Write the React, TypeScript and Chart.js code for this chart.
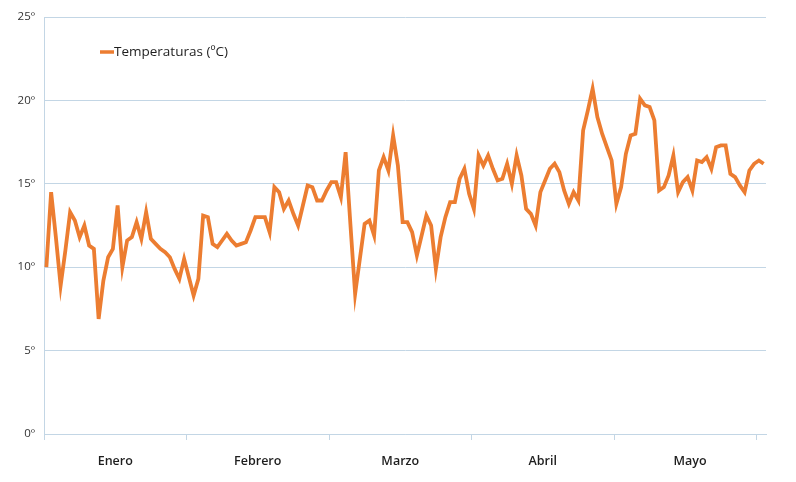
import { useEffect, useRef } from 'react';
import { Chart, registerables } from 'chart.js';

Chart.register(...registerables);

const SERIES_LABEL = 'Temperaturas (ºC)';
const MONTHS = ['Enero', 'Febrero', 'Marzo', 'Abril', 'Mayo'];
const DAYS_PER_TICK = 30;
const Y_MIN = 0;
const Y_MAX = 25;
const Y_STEP = 5;

const TEMPERATURES = [
  10.0, 14.5, 11.8, 8.9, 11.0, 13.3, 12.8, 11.8, 12.5, 11.3,
  11.1, 6.9, 9.2, 10.6, 11.1, 13.7, 10.0, 11.6, 11.8, 12.7,
  11.7, 13.3, 11.7, 11.4, 11.1, 10.9, 10.6, 9.9, 9.3, 10.5,
  9.4, 8.3, 9.3, 13.1, 13.0, 11.4, 11.2, 11.6, 12.0, 11.6,
  11.3, 11.4, 11.5, 12.2, 13.0, 13.0, 13.0, 12.1, 14.8, 14.5,
  13.5, 14.0, 13.2, 12.5, 13.7, 14.9, 14.8, 14.0, 14.0, 14.6,
  15.1, 15.1, 14.2, 16.9, 12.6, 8.4, 10.5, 12.6, 12.8, 11.9,
  15.8, 16.6, 15.8, 17.9, 16.1, 12.7, 12.7, 12.1, 10.7, 11.9,
  13.1, 12.5, 9.9, 11.8, 13.0, 13.9, 13.9, 15.3, 15.9, 14.4,
  13.5, 16.7, 16.1, 16.7, 15.9, 15.2, 15.3, 16.2, 15.0, 16.7,
  15.5, 13.5, 13.2, 12.5, 14.5, 15.2, 15.9, 16.2, 15.7, 14.6,
  13.8, 14.5, 14.0, 18.2, 19.4, 20.7, 19.0, 18.0, 17.2, 16.4,
  13.8, 14.8, 16.8, 17.9, 18.0, 20.1, 19.7, 19.6, 18.8, 14.6,
  14.8, 15.5, 16.7, 14.5, 15.1, 15.4, 14.6, 16.4, 16.3, 16.6,
  15.9, 17.2, 17.3, 17.3, 15.6, 15.4, 14.9, 14.5, 15.8, 16.2,
  16.4, 16.2,
];

const LINE_COLOR = '#ec7d31';
const GRID_COLOR = '#c3d6e5';
const FONT = "'Open Sans', 'DejaVu Sans', sans-serif";

export default function App() {
  const ref = useRef<HTMLCanvasElement>(null);

  useEffect(() => {
    document.body.style.margin = '0';
    const canvas = ref.current;
    if (!canvas) return;

    const n = TEMPERATURES.length;
    const boundaries = MONTHS.map((_, k) => k * DAYS_PER_TICK - 0.5).concat([
      MONTHS.length * DAYS_PER_TICK - 0.5,
    ]);
    const centers = MONTHS.map((_, k) => {
      const s = k * DAYS_PER_TICK;
      const e = k === MONTHS.length - 1 ? n : s + DAYS_PER_TICK;
      return (s + e) / 2 - 0.5;
    });
    const isBoundary = (v: number) => boundaries.some((b) => Math.abs(b - v) < 1e-6);

    const insideLegend = {
      id: 'insideLegend',
      afterDraw(chart: any) {
        const { ctx, chartArea } = chart;
        const ds = chart.data.datasets[0];
        const x = chartArea.left + 56;
        const y = chartArea.top + 35;
        ctx.save();
        ctx.strokeStyle = ds.borderColor;
        ctx.lineWidth = 3.5;
        ctx.beginPath();
        ctx.moveTo(x, y);
        ctx.lineTo(x + 14, y);
        ctx.stroke();
        ctx.font = `13.5px ${FONT}`;
        ctx.fillStyle = '#1e1e1e';
        ctx.textBaseline = 'middle';
        ctx.textAlign = 'left';
        ctx.fillText(ds.label, x + 14, y);
        ctx.restore();
      },
    };

    const chart = new Chart(canvas, {
      type: 'line',
      data: {
        datasets: [
          {
            label: SERIES_LABEL,
            data: TEMPERATURES.map((v, i) => ({ x: i, y: v })),
            borderColor: LINE_COLOR,
            backgroundColor: LINE_COLOR,
            borderWidth: 3.8,
            pointRadius: 0,
            tension: 0,
            fill: false,
          },
        ],
      },
      options: {
        animation: false,
        responsive: false,
        devicePixelRatio: 1,
        layout: { padding: { left: 0, top: 17, right: 30, bottom: 0 } },
        plugins: {
          legend: { display: false },
          tooltip: { enabled: false },
        },
        scales: {
          x: {
            type: 'linear',
            min: -0.5,
            max: n - 0.5,
            afterBuildTicks: (scale: any) => {
              const vals = [...boundaries, ...centers].sort((a, b) => a - b);
              scale.ticks = vals.map((v) => ({ value: v }));
            },
            afterFit: (scale: any) => {
              scale.height = 48;
            },
            ticks: {
              autoSkip: false,
              maxRotation: 0,
              padding: 14,
              color: '#1e1e1e',
              font: { family: FONT, size: 12.5, weight: '600' },
              callback: (value: any) => {
                const idx = centers.findIndex((c) => Math.abs(c - Number(value)) < 1e-6);
                return idx >= 0 ? MONTHS[idx] : '';
              },
            },
            grid: {
              drawOnChartArea: false,
              drawTicks: true,
              tickLength: 6,
              color: (ctx: any) =>
                ctx.tick && isBoundary(ctx.tick.value) ? GRID_COLOR : 'rgba(0,0,0,0)',
            },
            border: { display: true, color: GRID_COLOR, width: 1 },
          },
          y: {
            min: Y_MIN,
            max: Y_MAX,
            afterFit: (scale: any) => {
              scale.width = 44;
            },
            ticks: {
              stepSize: Y_STEP,
              padding: 9,
              color: '#333333',
              font: { family: FONT, size: 11.5 },
              callback: (value: any) => `${value}º`,
            },
            grid: {
              color: GRID_COLOR,
              drawTicks: false,
              lineWidth: 1,
            },
            border: { display: true, color: GRID_COLOR, width: 1 },
          },
        },
      },
      plugins: [insideLegend],
    });

    return () => chart.destroy();
  }, []);

  return (
    <div style={{ width: 796, height: 482, background: '#ffffff' }}>
      <canvas ref={ref} width={796} height={482} style={{ display: 'block' }} />
    </div>
  );
}
